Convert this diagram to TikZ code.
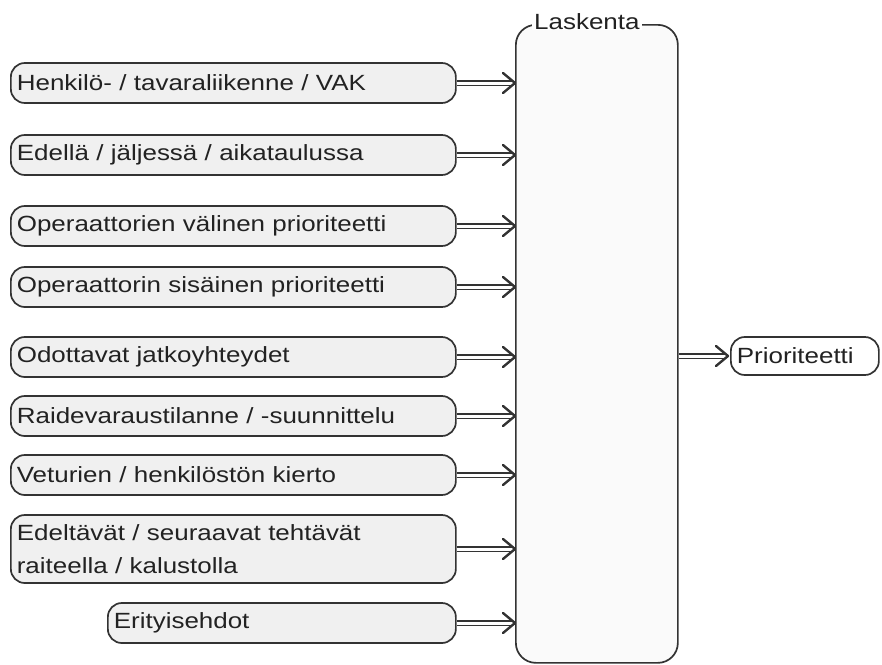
\documentclass[tikz,border=0pt]{standalone}
\usepackage{fontspec}
\setmainfont{Liberation Sans}[FakeStretch=1.18]
\definecolor{linegray}{HTML}{333333}
\definecolor{textgray}{HTML}{222222}
\definecolor{boxfill}{HTML}{F0F0F0}
\definecolor{calcfill}{HTML}{FAFAFA}
\begin{document}
\begin{tikzpicture}[x=1pt,y=-1pt,
  labelfont/.style={font=\fontsize{22}{33}\selectfont, text=textgray},
  inbox/.style={draw=linegray, line width=1.7pt, fill=boxfill, rounded corners=14pt,
    anchor=west, minimum height=40pt, inner xsep=6pt, inner ysep=0pt,
    align=left, labelfont},
  widebox/.style={inbox, text width=433pt},
  calcbox/.style={draw=linegray, line width=1.7pt, fill=calcfill, rounded corners=20pt,
    anchor=north west, minimum width=162pt, minimum height=638pt, inner sep=0pt},
  outbox/.style={draw=linegray, line width=1.7pt, fill=white, rounded corners=14pt,
    anchor=west, minimum height=38pt, text width=136pt, inner xsep=6pt, inner ysep=0pt,
    align=left, labelfont},
  shaft/.style={draw=linegray, line width=1.8pt, double=white, double distance=3pt},
  chevron/.style={draw=linegray, line width=2.4pt, line join=round, line cap=round}
]
\useasboundingbox (0,0) rectangle (882,664);

% central computation block
\node[calcbox] (calc) at (515,24) {};
\node[labelfont, fill=white, inner xsep=2pt, inner ysep=1pt, anchor=base west] (calclbl) at (532,29) {Laskenta};

% input factors
\node[widebox] (i1) at (10,83)  {Henkilö- / tavaraliikenne / VAK};
\node[widebox] (i2) at (10,155) {Edellä / jäljessä / aikataulussa};
\node[widebox] (i3) at (10,226) {Operaattorien välinen prioriteetti};
\node[widebox] (i4) at (10,287) {Operaattorin sisäinen prioriteetti};
\node[widebox] (i5) at (10,357) {Odottavat jatkoyhteydet};
\node[widebox] (i6) at (10,416) {Raidevaraustilanne / -suunnittelu};
\node[widebox] (i7) at (10,475) {Veturien / henkilöstön kierto};
\node[widebox, minimum height=68pt] (i8) at (10,549) {Edeltävät / seuraavat tehtävät\\raiteella / kalustolla};
\node[inbox, text width=336pt] (i9) at (107,623) {Erityisehdot};

% result
\node[outbox] (prio) at (730,356) {Prioriteetti};

% double-shafted connectors with open chevron heads
\foreach \n in {i1,i2,i3,i4,i5,i6,i7,i8,i9}{
  \coordinate (\n tip) at (\n.east -| calc.west);
  \draw[shaft] (\n.east) -- ([xshift=-3pt]\n tip);
  \draw[chevron] ([xshift=-12pt,yshift=-10pt]\n tip) -- (\n tip) -- ([xshift=-12pt,yshift=10pt]\n tip);
}
\coordinate (prio tip) at ([xshift=-2pt]prio.west);
\draw[shaft] (prio.west -| calc.east) -- ([xshift=-3pt]prio tip);
\draw[chevron] ([xshift=-12pt,yshift=-10pt]prio tip) -- (prio tip) -- ([xshift=-12pt,yshift=10pt]prio tip);
\end{tikzpicture}
\end{document}
